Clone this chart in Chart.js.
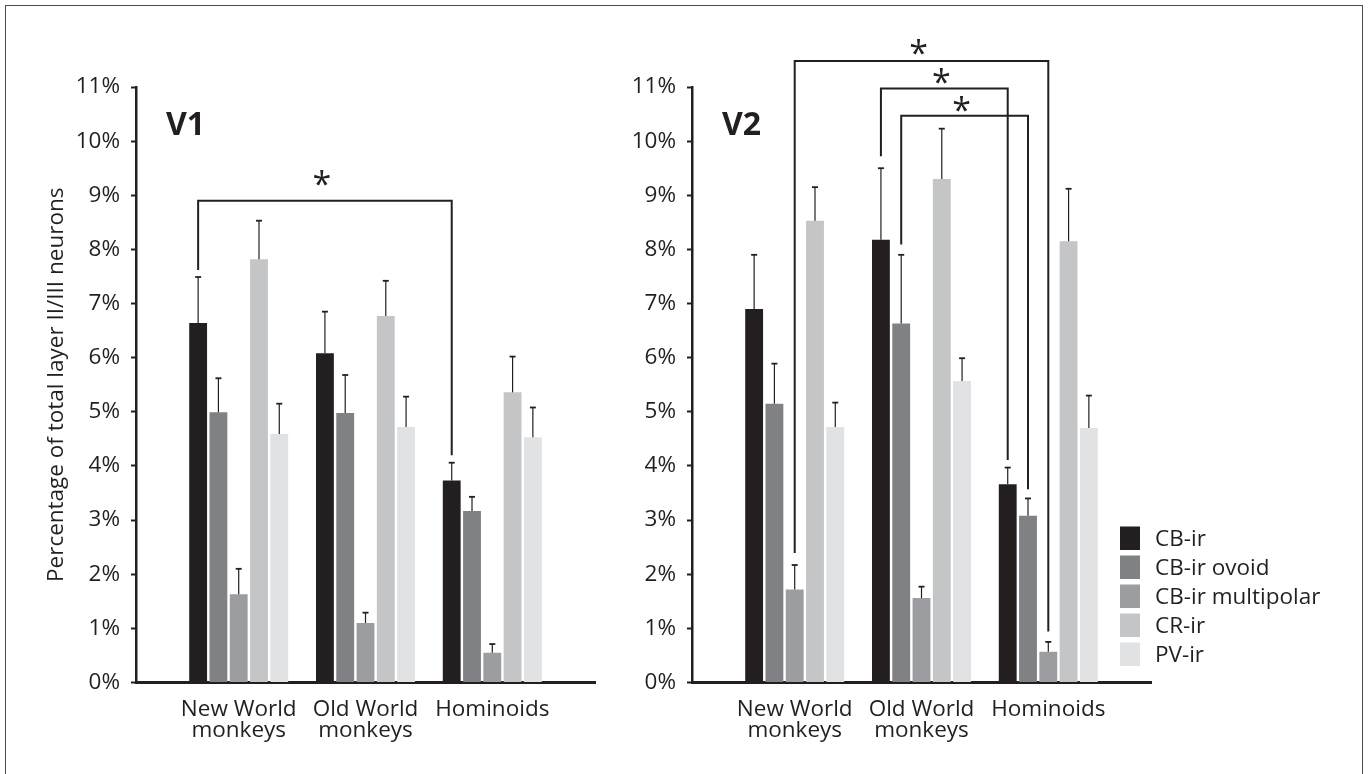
<!DOCTYPE html>
<html>
<head>
<meta charset="utf-8">
<script src="https://cdn.jsdelivr.net/npm/chart.js@4.4.0/dist/chart.umd.min.js"></script>
<style>
	html, body { margin: 0; padding: 0; background: #fff; }
	#wrap { position: relative; width: 1369px; height: 774px; overflow: hidden; }
	#frame { position: absolute; left: 5px; top: 5px; width: 1356px; height: 800px; border: 1.5px solid #4a4a4a; }
	canvas { position: absolute; top: 0; }
	#chartV1 { left: 0; }
	#chartV2 { left: 556px; }
</style>
</head>
<body>
<div id="wrap">
	<div id="frame"></div>
	<canvas id="chartV1" width="640" height="774"></canvas>
	<canvas id="chartV2" width="813" height="774"></canvas>
</div>
<script>
// groups on the x axis (multi-line tick labels)
const groups = [['New World', 'monkeys'], ['Old World', 'monkeys'], ['Hominoids']];
const seriesNames = ['CB-ir', 'CB-ir ovoid', 'CB-ir multipolar', 'CR-ir', 'PV-ir'];
const seriesColors = ['#231f20', '#808184', '#9b9da0', '#c4c5c7', '#e1e2e4'];
const yTicks = [0, 1, 2, 3, 4, 5, 6, 7, 8, 9, 10, 11];

// V1 : mean % and top of error bar, per series (NW, OW, Hominoids)
const v1CB = [6.64, 6.08, 3.73];
const v1CBerr = [7.49, 6.85, 4.06];
const v1Ovoid = [4.99, 4.98, 3.17];
const v1OvoidErr = [5.62, 5.68, 3.43];
const v1Multi = [1.63, 1.10, 0.55];
const v1MultiErr = [2.10, 1.29, 0.71];
const v1CR = [7.82, 6.77, 5.36];
const v1CRerr = [8.53, 7.42, 6.02];
const v1PV = [4.59, 4.72, 4.53];
const v1PVerr = [5.15, 5.28, 5.08];

// V2
const v2CB = [6.90, 8.18, 3.66];
const v2CBerr = [7.90, 9.50, 3.97];
const v2Ovoid = [5.15, 6.63, 3.08];
const v2OvoidErr = [5.89, 7.90, 3.40];
const v2Multi = [1.72, 1.56, 0.57];
const v2MultiErr = [2.17, 1.77, 0.75];
const v2CR = [8.53, 9.30, 8.15];
const v2CRerr = [9.15, 10.23, 9.12];
const v2PV = [4.72, 5.57, 4.70];
const v2PVerr = [5.17, 5.99, 5.30];

// significance brackets: [group, series] ends, levels in %
const v1Brackets = [
	{ a: [0, 0], b: [2, 0], top: 8.90, aEnd: 7.62, bEnd: 4.20, star: 9.31 }
];
const v2Brackets = [
	{ a: [0, 2], b: [2, 2], top: 11.48, aEnd: 2.39, bEnd: 0.94, star: 11.73 },
	{ a: [1, 0], b: [2, 0], top: 10.97, aEnd: 9.72, bEnd: 4.11, star: 11.21 },
	{ a: [1, 1], b: [2, 1], top: 10.47, aEnd: 8.09, bEnd: 3.57, star: 10.69 }
];

const ink = '#231f20';
const FONT = "'Open Sans', sans-serif";
Chart.defaults.font.family = FONT;
Chart.defaults.color = ink;

const overlay = {
	id: 'overlay',
	afterDatasetsDraw(chart, args, opts) {
		const ctx = chart.ctx;
		const y = chart.scales.y;
		const area = chart.chartArea;
		ctx.save();
		ctx.strokeStyle = ink;
		ctx.fillStyle = ink;

		// error bars (upper only)
		chart.data.datasets.forEach((ds, di) => {
			chart.getDatasetMeta(di).data.forEach((bar, i) => {
				const top = y.getPixelForValue(ds.errTop[i]);
				ctx.lineWidth = 1.2;
				ctx.beginPath();
				ctx.moveTo(bar.x, bar.y);
				ctx.lineTo(bar.x, top);
				ctx.stroke();
				ctx.lineWidth = 1.8;
				ctx.beginPath();
				ctx.moveTo(bar.x - 3, top);
				ctx.lineTo(bar.x + 3, top);
				ctx.stroke();
			});
		});

		// brackets
		ctx.lineWidth = 2;
		opts.brackets.forEach(br => {
			const xa = chart.getDatasetMeta(br.a[1]).data[br.a[0]].x;
			const xb = chart.getDatasetMeta(br.b[1]).data[br.b[0]].x;
			const yt = y.getPixelForValue(br.top);
			ctx.beginPath();
			ctx.moveTo(xa, y.getPixelForValue(br.aEnd));
			ctx.lineTo(xa, yt);
			ctx.lineTo(xb, yt);
			ctx.lineTo(xb, y.getPixelForValue(br.bEnd));
			ctx.stroke();
			ctx.font = '34px ' + FONT;
			ctx.textAlign = 'center';
			ctx.textBaseline = 'alphabetic';
			const m = ctx.measureText('*');
			const cy = y.getPixelForValue(br.star);
			ctx.fillText('*', (xa + xb) / 2 - 3, cy + (m.actualBoundingBoxAscent - m.actualBoundingBoxDescent) / 2);
		});

		// panel label
		ctx.font = 'bold 32px ' + FONT;
		ctx.textAlign = 'left';
		ctx.textBaseline = 'alphabetic';
		ctx.fillText(opts.label, area.left + 30, area.top + 48);

		// legend
		if (opts.legend) {
			const bw = 20, bh = 23.5, pitch = 29;
			const bx = area.right - 31;
			const n = chart.data.datasets.length;
			const firstTop = area.bottom - 16.5 - bh - pitch * (n - 1);
			ctx.font = '22.5px ' + FONT;
			ctx.textBaseline = 'middle';
			chart.data.datasets.forEach((ds, i) => {
				const t = firstTop + i * pitch;
				ctx.fillStyle = ds.backgroundColor;
				ctx.fillRect(bx, t, bw, bh);
				ctx.fillStyle = ink;
				ctx.fillText(ds.label, bx + 35, t + bh / 2 + 1);
			});
		}
		ctx.restore();
	}
};

function buildChart(id, values, errs, brackets, label, showTitle, showLegend, padRight) {
	const datasets = seriesNames.map((name, s) => ({
		label: name,
		data: values[s].map((v, g) => ({ x: g + 1, y: v })),
		errTop: errs[s],
		backgroundColor: seriesColors[s],
		borderWidth: 0,
		categoryPercentage: 0.8,
		barPercentage: 0.88
	}));

	const ctx = document.getElementById(id).getContext('2d');
	return new Chart(ctx, {
		type: 'bar',
		data: { datasets },
		plugins: [overlay],
		options: {
			responsive: false,
			animation: false,
			layout: { padding: { left: 0, right: padRight, top: 87, bottom: 0 } },
			plugins: {
				legend: { display: false },
				tooltip: { enabled: false },
				overlay: { brackets, label, legend: showLegend }
			},
			scales: {
				x: {
					type: 'linear',
					min: 0.19,
					max: 3.81,
					offset: false,
					afterBuildTicks: s => { s.ticks = groups.map((g, i) => ({ value: i + 1 })); },
					ticks: {
						callback: v => groups[Math.round(v) - 1],
						color: ink,
						font: { size: 22.5, lineHeight: 0.95 },
						padding: 16,
						maxRotation: 0,
						autoSkip: false
					},
					grid: { display: false, drawTicks: false },
					border: { display: true, color: ink, width: 3 },
					afterFit: s => { s.height = 91.5; }
				},
				y: {
					min: 0,
					max: 11,
					afterBuildTicks: s => { s.ticks = yTicks.map(v => ({ value: v })); },
					ticks: { callback: v => v + '%', color: ink, font: { size: 22.5 }, padding: 11 },
					grid: { drawOnChartArea: false, drawTicks: true, tickLength: 5, tickWidth: 2, tickColor: ink },
					border: { display: true, color: ink, width: 2.5 },
					title: {
						display: showTitle,
						text: 'Percentage of total layer II/III neurons',
						color: ink,
						font: { size: 22.5 },
						padding: { top: 43, bottom: 0 }
					},
					afterFit: s => { s.width = 136; }
				}
			}
		}
	});
}

buildChart('chartV1',
	[v1CB, v1Ovoid, v1Multi, v1CR, v1PV],
	[v1CBerr, v1OvoidErr, v1MultiErr, v1CRerr, v1PVerr],
	v1Brackets, 'V1', true, false, 45);

buildChart('chartV2',
	[v2CB, v2Ovoid, v2Multi, v2CR, v2PV],
	[v2CBerr, v2OvoidErr, v2MultiErr, v2CRerr, v2PVerr],
	v2Brackets, 'V2', false, true, 218);
</script>
</body>
</html>
